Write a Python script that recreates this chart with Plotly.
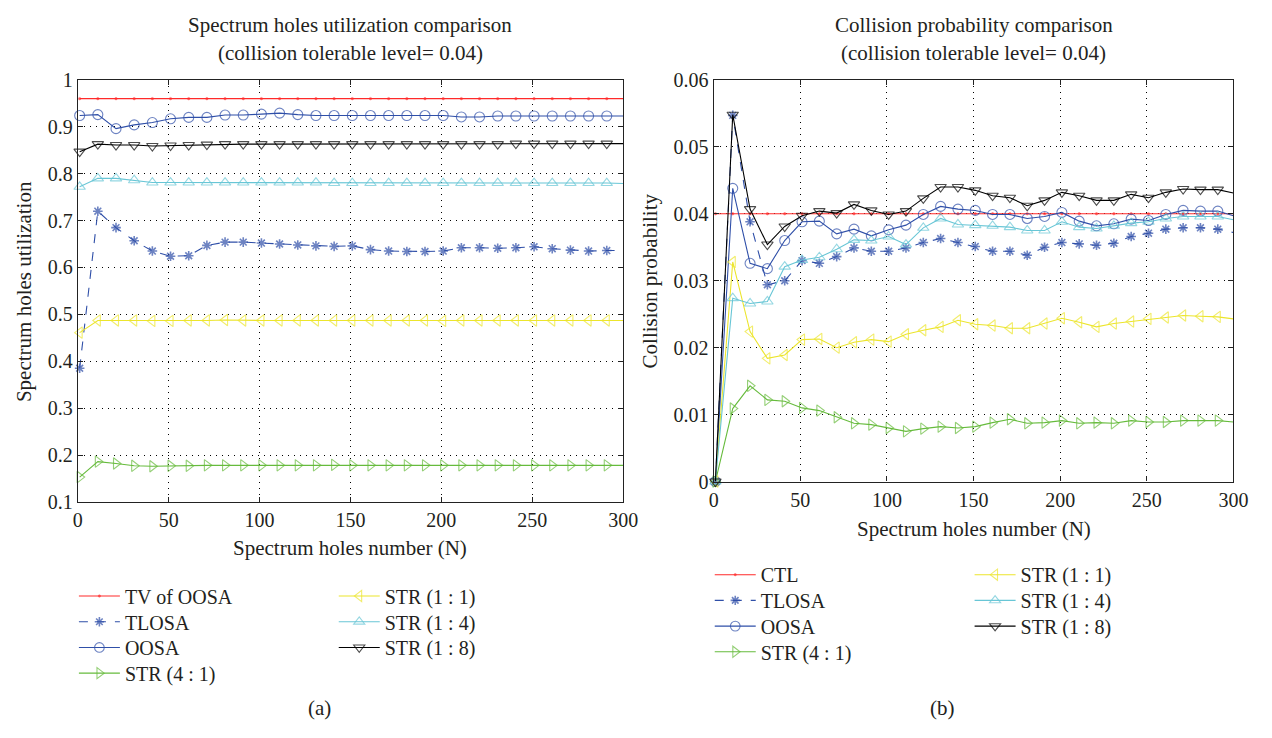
import plotly.graph_objects as go

# ---------------- data ----------------
N = [1, 11, 21, 31, 41, 51, 61, 71, 81, 91, 101, 111, 121, 131, 141, 151,
     161, 171, 181, 191, 201, 211, 221, 231, 241, 251, 261, 271, 281, 291, 300]

# (a) spectrum holes utilization
util_tv = [0.96] * 31
util_tlosa = [0.385, 0.720, 0.685, 0.657, 0.635, 0.624, 0.625, 0.647, 0.654, 0.654, 0.652,
              0.650, 0.648, 0.646, 0.645, 0.646, 0.638, 0.635, 0.634, 0.634, 0.635, 0.642,
              0.642, 0.641, 0.642, 0.644, 0.640, 0.637, 0.635, 0.636, 0.636]
util_oosa = [0.924, 0.926, 0.896, 0.904, 0.909, 0.917, 0.920, 0.920, 0.925, 0.925, 0.927,
             0.929, 0.926, 0.924, 0.924, 0.924, 0.924, 0.924, 0.924, 0.924, 0.924, 0.921,
             0.921, 0.923, 0.923, 0.923, 0.923, 0.923, 0.923, 0.923, 0.923]
util_str41 = [0.153, 0.186, 0.182, 0.177, 0.176, 0.177, 0.177, 0.178, 0.178, 0.178, 0.178,
              0.178, 0.178, 0.178, 0.179, 0.178, 0.178, 0.178, 0.178, 0.178, 0.178, 0.178,
              0.178, 0.178, 0.178, 0.178, 0.178, 0.178, 0.178, 0.178, 0.178]
util_str11 = [0.461, 0.487, 0.487, 0.487, 0.486, 0.486, 0.487, 0.487, 0.488, 0.487, 0.487,
              0.487, 0.487, 0.487, 0.487, 0.487, 0.487, 0.487, 0.487, 0.487, 0.486, 0.487,
              0.487, 0.487, 0.487, 0.487, 0.487, 0.487, 0.487, 0.487, 0.487]
util_str14 = [0.772, 0.790, 0.790, 0.786, 0.781, 0.781, 0.781, 0.781, 0.781, 0.781, 0.781,
              0.781, 0.781, 0.781, 0.780, 0.780, 0.780, 0.780, 0.780, 0.780, 0.780, 0.780,
              0.780, 0.780, 0.780, 0.780, 0.780, 0.780, 0.780, 0.780, 0.779]
util_str18 = [0.847, 0.863, 0.861, 0.861, 0.859, 0.860, 0.861, 0.862, 0.863, 0.863, 0.863,
              0.863, 0.863, 0.863, 0.863, 0.863, 0.863, 0.863, 0.863, 0.863, 0.863, 0.863,
              0.863, 0.863, 0.864, 0.864, 0.864, 0.864, 0.864, 0.864, 0.864]

# (b) collision probability
coll_ctl = [0.04] * 31
coll_tlosa = [0, 0.0547, 0.0388, 0.0294, 0.0300, 0.0330, 0.0326, 0.0336, 0.0349, 0.0344, 0.0344,
              0.0349, 0.0357, 0.0363, 0.0357, 0.0351, 0.0344, 0.0344, 0.0338, 0.0350, 0.0357,
              0.0355, 0.0353, 0.0356, 0.0366, 0.0371, 0.0377, 0.0379, 0.0379, 0.0377, 0.0372]
coll_oosa = [0, 0.0438, 0.0326, 0.0318, 0.0360, 0.0388, 0.0389, 0.0370, 0.0377, 0.0367, 0.0376,
             0.0383, 0.0399, 0.0411, 0.0407, 0.0405, 0.0399, 0.0399, 0.0393, 0.0396, 0.0402,
             0.0389, 0.0382, 0.0385, 0.0392, 0.0390, 0.0399, 0.0405, 0.0404, 0.0404, 0.0397]
coll_str41 = [0, 0.0109, 0.0143, 0.0122, 0.0120, 0.0110, 0.0106, 0.0096, 0.0087, 0.0085, 0.0080,
              0.0075, 0.0079, 0.0082, 0.0080, 0.0082, 0.0088, 0.0093, 0.0087, 0.0088, 0.0091,
              0.0087, 0.0088, 0.0087, 0.0091, 0.0089, 0.0089, 0.0091, 0.0091, 0.0091, 0.0089]
coll_str11 = [0, 0.0328, 0.0224, 0.0184, 0.0189, 0.0212, 0.0213, 0.0200, 0.0208, 0.0212, 0.0209,
              0.0220, 0.0226, 0.0231, 0.0241, 0.0235, 0.0233, 0.0229, 0.0229, 0.0236, 0.0244,
              0.0238, 0.0231, 0.0236, 0.0239, 0.0243, 0.0245, 0.0248, 0.0247, 0.0246, 0.0243]
coll_str14 = [0, 0.0274, 0.0266, 0.0269, 0.0321, 0.0331, 0.0335, 0.0347, 0.0361, 0.0360, 0.0366,
              0.0354, 0.0379, 0.0393, 0.0384, 0.0383, 0.0382, 0.0380, 0.0375, 0.0375, 0.0388,
              0.0380, 0.0378, 0.0382, 0.0386, 0.0388, 0.0393, 0.0396, 0.0396, 0.0396, 0.0391]
coll_str18 = [0, 0.0548, 0.0407, 0.0354, 0.0381, 0.0397, 0.0404, 0.0401, 0.0414, 0.0405, 0.0399,
              0.0404, 0.0423, 0.0440, 0.0440, 0.0435, 0.0427, 0.0424, 0.0412, 0.0420, 0.0432,
              0.0427, 0.0420, 0.0420, 0.0429, 0.0424, 0.0432, 0.0437, 0.0436, 0.0436, 0.0431]

util_names = ["TV of OOSA", "TLOSA", "OOSA", "STR (4 : 1)", "STR (1 : 1)", "STR (1 : 4)", "STR (1 : 8)"]
coll_names = ["CTL", "TLOSA", "OOSA", "STR (4 : 1)", "STR (1 : 1)", "STR (1 : 4)", "STR (1 : 8)"]

x_ticks = [0, 50, 100, 150, 200, 250, 300]
util_ticks = [0.1, 0.2, 0.3, 0.4, 0.5, 0.6, 0.7, 0.8, 0.9, 1]
coll_ticks = [0, 0.01, 0.02, 0.03, 0.04, 0.05, 0.06]

# ---------------- styling ----------------
W, H = 1272, 738
FONT = "Liberation Serif"
TXT = "#231f20"
RED = "#ff2a2a"
BLUE = "#2f4fa8"
GREEN = "#66bb3c"
YELLOW = "#ece52c"
CYAN = "#68c6d6"
BLACK = "#000000"
FS = 20

n_mark = len(N) - 1
styles = [
    # color, dash, symbol, marker size, marker line width
    (RED, "solid", "circle", 2.5, 0.5),
    (BLUE, "dash", "asterisk-open", 8, 1.6),
    (BLUE, "solid", "circle-open", 10, 1.1),
    (GREEN, "solid", "triangle-right-open", 10, 1.1),
    (YELLOW, "solid", "triangle-left-open", 10, 1.1),
    (CYAN, "solid", "triangle-up-open", 10, 1.1),
    (BLACK, "solid", "triangle-down-open", 10, 1.1),
]


def px_x(p):
    return p / W


def px_y(p):
    return 1 - p / H


# one legend box per legend row so the row pitch can match the reference
ROW = 26.5
legend_slots = {
    "util": dict(cols=[70, 334], y0=603),
    "coll": dict(cols=[716, 980], y0=581),
}

fig = go.Figure()
legend_defs = {}
leg_counter = [0]


def new_legend(x, y):
    leg_counter[0] += 1
    name = "legend" if leg_counter[0] == 1 else f"legend{leg_counter[0]}"
    legend_defs[name] = dict(
        x=px_x(x), y=px_y(y), xanchor="left", yanchor="middle", orientation="v",
        bgcolor="rgba(0,0,0,0)", itemwidth=41, tracegroupgap=0, visible=True,
        font=dict(family=FONT, size=FS, color=TXT))
    return name


def add_series(ys, names, xa, ya, slot):
    for i, ((color, dash, sym, sz, mw), y, name) in enumerate(zip(styles, ys, names)):
        col, row = (0, i) if i < 4 else (1, i - 4)
        lg = new_legend(slot["cols"][col], slot["y0"] + row * ROW)
        fig.add_trace(go.Scatter(
            x=N, y=y, name=name, mode="lines+markers", showlegend=True,
            xaxis=xa, yaxis=ya, legend=lg, cliponaxis=False,
            line=dict(color=color, width=1.1, dash=dash),
            marker=dict(symbol=sym, size=[sz] * n_mark + [0], color=color,
                        line=dict(color=color, width=mw)),
        ))


add_series([util_tv, util_tlosa, util_oosa, util_str41, util_str11, util_str14, util_str18],
           util_names, "x", "y", legend_slots["util"])
add_series([coll_ctl, coll_tlosa, coll_oosa, coll_str41, coll_str11, coll_str14, coll_str18],
           coll_names, "x2", "y2", legend_slots["coll"])

axis_common = dict(
    showline=True, linecolor="#222", linewidth=1.4, mirror="ticks",
    ticks="inside", ticklen=5, tickcolor="#222", tickwidth=1,
    showgrid=True, gridcolor="#000", gridwidth=1, griddash="1px,5px",
    zeroline=False, tickfont=dict(family=FONT, size=FS, color=TXT),
)

L = dict(x0=74, x1=628, y0=71, y1=506)
R = dict(x0=720, x1=1248, y0=71, y1=485)

layout = dict(
    autosize=True, showlegend=True, margin=dict(l=0, r=0, t=0, b=0, pad=0),
    paper_bgcolor="white", plot_bgcolor="white",
    font=dict(family=FONT, size=FS, color=TXT),
    xaxis=dict(domain=[px_x(L["x0"]), px_x(L["x1"])], range=[0, 300], tickvals=x_ticks,
               anchor="y", **axis_common),
    yaxis=dict(domain=[px_y(L["y1"]), px_y(L["y0"])], range=[0.1, 1], tickvals=util_ticks,
               anchor="x", **axis_common),
    xaxis2=dict(domain=[px_x(R["x0"]), px_x(R["x1"])], range=[0, 300], tickvals=x_ticks,
                anchor="y2", **axis_common),
    yaxis2=dict(domain=[px_y(R["y1"]), px_y(R["y0"])], range=[0, 0.06], tickvals=coll_ticks,
                anchor="x2", **axis_common),
)
layout.update(legend_defs)
fig.update_layout(**layout)

ann = []


def text(x, y, s, size=21, angle=0):
    ann.append(dict(x=px_x(x), y=px_y(y), xref="paper", yref="paper", text=s, showarrow=False,
                    xanchor="center", yanchor="middle", textangle=angle,
                    font=dict(family=FONT, size=size, color=TXT)))


text(351, 14, "Spectrum holes utilization comparison")
text(351, 43, "(collision tolerable level= 0.04)")
text(984, 14, "Collision probability comparison")
text(984, 43, "(collision tolerable level= 0.04)")
text(351, 553, "Spectrum holes number (N)")
text(984, 534, "Spectrum holes number (N)")
text(20, 289, "Spectrum holes utilization", angle=-90)
text(655, 278, "Collision probability", angle=-90)
text(320, 718, "(a)")
text(952, 718, "(b)")
fig.update_layout(annotations=ann)

fig.write_html(
    "out.html",
    config={"displayModeBar": False},
    default_width="100vw",
    default_height="100vh",
    post_script=(
        "document.documentElement.style.margin='0';"
        "document.documentElement.style.padding='0';"
        "document.documentElement.style.overflow='hidden';"
        "document.body.style.margin='0';"
        "document.body.style.padding='0';"
        "document.body.style.overflow='hidden';"
        "Plotly.Plots.resize(document.getElementById('{plot_id}'));"
    ),
)
